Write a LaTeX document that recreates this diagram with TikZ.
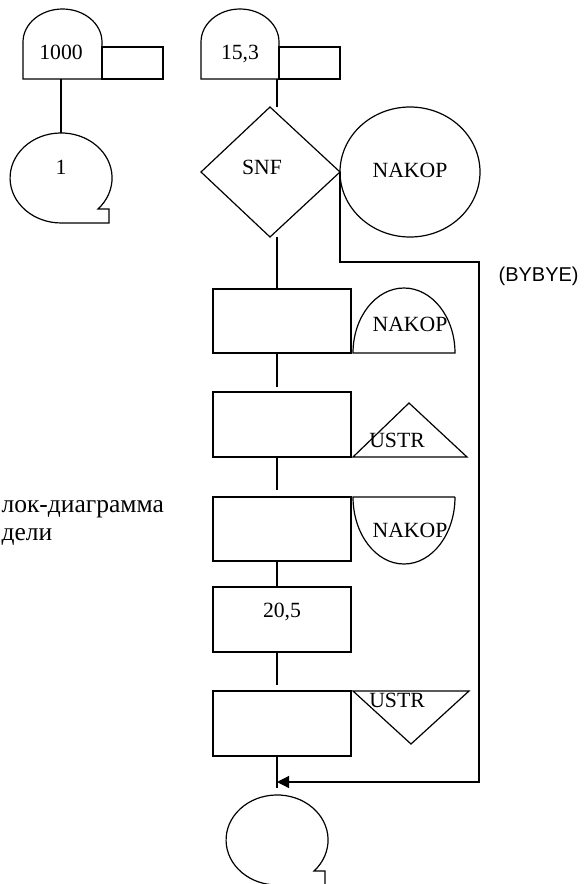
\documentclass[tikz,border=0pt]{standalone}
\usepackage{fontspec}
\setmainfont{Liberation Serif}
\newfontfamily\arialfont{Liberation Sans}
\usetikzlibrary{arrows.meta}
\begin{document}
\begin{tikzpicture}[x=1pt,y=-1pt,line width=1.2pt,line join=miter]
\tikzset{
  lbl/.style={font=\fontsize{21.7}{26}\selectfont,inner sep=0pt,anchor=base},
  cyr/.style={font=\fontsize{25.5}{30}\selectfont,inner sep=0pt,anchor=base west},
  sans/.style={font=\arialfont\fontsize{20}{24}\selectfont,inner sep=0pt,anchor=base west},
  flow/.style={line width=1.2pt},
  arr/.style={flow,-{Triangle[length=12pt,width=12pt]}}
}
\useasboundingbox (0,0) rectangle (587,884);

% ---- top-left "1000" block with attached rectangle
\draw (23,79) -- (23,42) arc[start angle=180,end angle=0,x radius=39.5pt,y radius=33pt] -- (102,79) -- cycle;
\draw (102,47) rectangle (163,79);
\node[lbl] (t1000) at (61,59) {1000};
\coordinate (s1000) at (61,79);

% ---- notched circle "1"
\draw (98,209) arc[start angle=-43.6,end angle=270,x radius=51pt,y radius=45pt] -- (109,223) -- (109,209) -- cycle;
\node[lbl] (tone) at (61,174) {1};
\coordinate (n1top) at (61,133);
\draw[flow] (s1000) -- (n1top);

% ---- "15,3" block
\draw (201,79) -- (201,42) arc[start angle=180,end angle=0,x radius=39pt,y radius=33pt] -- (279,79) -- cycle;
\draw (279,47) rectangle (340,79);
\node[lbl] (t153) at (240,59) {15,3};
\coordinate (s153) at (277,79);
\coordinate (dtopin) at (277,107);
\draw[flow] (s153) -- (dtopin);

% ---- diamond SNF
\draw (270,107) -- (340,172) -- (270,237) -- (201,172) -- cycle;
\node[lbl] (tsnf) at (262,174) {SNF};
\coordinate (dR) at (340,172);
\coordinate (dB) at (277,237);

% ---- circle NAKOP
\draw (410,172) ellipse[x radius=70pt,y radius=65pt];
\node[lbl] (tnak1) at (410,177) {NAKOP};

% ---- main column boxes
\draw (213,289) rectangle (351,353);
\draw (213,392) rectangle (351,457);
\draw (213,497) rectangle (351,561);
\draw (213,587) rectangle (351,652);
\draw (213,691) rectangle (351,756);
\node[lbl] (t205) at (282,617) {20,5};

\coordinate (b1t) at (277,289); \coordinate (b1b) at (277,353);
\coordinate (b2t) at (277,387); \coordinate (b2b) at (277,457);
\coordinate (b3t) at (277,490); \coordinate (b3b) at (277,561);
\coordinate (b4t) at (277,587); \coordinate (b4b) at (277,652);
\coordinate (b5t) at (277,685); \coordinate (b5b) at (277,756);
\coordinate (endt) at (277,788);
\coordinate (join) at (277,782);

\draw[flow] (dB) -- (b1t);
\draw[flow] (b1b) -- (b2t);
\draw[flow] (b2b) -- (b3t);
\draw[flow] (b3b) -- (b4t);
\draw[flow] (b4b) -- (b5t);
\draw[flow] (b5b) -- (endt);

% ---- side symbols
\draw (353,353) arc[start angle=180,end angle=0,x radius=51pt,y radius=65pt] -- cycle;
\node[lbl] (tnak2) at (410,331) {NAKOP};
\draw (353,457) -- (409,403) -- (467,457) -- cycle;
\node[lbl] (tustr1) at (397,447) {USTR};
\draw (455,497) -- (353,497) arc[start angle=180,end angle=360,x radius=51pt,y radius=67pt];
\node[lbl] (tnak3) at (410,537) {NAKOP};
\draw (353,691) -- (469,691) -- (411,744) -- cycle;
\node[lbl] (tustr2) at (397,707) {USTR};

% ---- BYBYE loop
\coordinate (r1) at (340,262);
\coordinate (r2) at (479,262);
\coordinate (r3) at (479,782);
\draw[arr] (dR) -- (r1) -- (r2) -- (r3) -- (join);
\node[sans] (tbye) at (498,281) {(BYBYE)};

% ---- bottom notched circle
\draw (314,871) arc[start angle=-43.6,end angle=270,x radius=51pt,y radius=45pt] -- (325,885) -- (325,871) -- cycle;

% ---- caption
\node[cyr] (cap1) at (1,512) {лок-диаграмма};
\node[cyr] (cap2) at (1,540) {дели};
\end{tikzpicture}
\end{document}
